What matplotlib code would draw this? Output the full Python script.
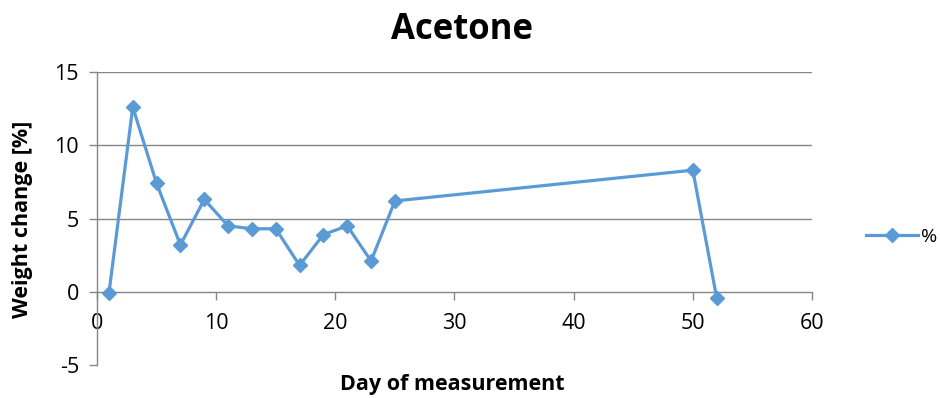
import matplotlib
matplotlib.use("Agg")
import matplotlib.pyplot as plt

plt.rcParams['font.family'] = ['Open Sans', 'DejaVu Sans']
plt.rcParams['axes.unicode_minus'] = False

# weight change of the sample in acetone
days = [1, 3, 5, 7, 9, 11, 13, 15, 17, 19, 21, 23, 25, 50, 52]
weight_change = [-0.1, 12.6, 7.4, 3.2, 6.3, 4.5, 4.3, 4.3, 1.8, 3.9, 4.5, 2.1, 6.2, 8.3, -0.4]
x_ticks = [0, 10, 20, 30, 40, 50, 60]
y_ticks = [-5, 0, 5, 10, 15]

blue = '#5b9bd5'
grid_grey = '#868686'

fig = plt.figure(figsize=(9.4, 3.98), dpi=100)
ax = fig.add_axes([0.1032, 0.0829, 0.7606, 0.7361])

ax.plot(days, weight_change, color=blue, lw=2.3, marker='D', markersize=7.5,
        label='%', zorder=3)

ax.set_xlim(0, 60)
ax.set_ylim(-5, 15)
ax.set_xticks(x_ticks)
ax.set_yticks(y_ticks)

for yv in [5, 10, 15]:
    ax.axhline(yv, color=grid_grey, lw=1.0, zorder=1)

ax.spines['top'].set_visible(False)
ax.spines['right'].set_visible(False)
ax.spines['bottom'].set_position(('data', 0))
for s in ['left', 'bottom']:
    ax.spines[s].set_color(grid_grey)
    ax.spines[s].set_linewidth(1.0)

ax.tick_params(axis='both', colors=grid_grey, length=6, width=1.0,
               labelcolor='black', labelsize=15.5)
ax.tick_params(axis='x', direction='out', pad=9)
ax.tick_params(axis='y', direction='out', pad=7)

fig.text(0.492, 0.925, 'Acetone', ha='center', va='center',
         fontsize=25, fontweight='bold')
fig.text(0.024, 0.45, 'Weight change [%]', ha='center', va='center',
         rotation=90, fontsize=15.5, fontweight='bold')
fig.text(0.481, 0.033, 'Day of measurement', ha='center', va='center',
         fontsize=15.5, fontweight='bold')

fig.legend(loc='center left', bbox_to_anchor=(0.921, 0.405), frameon=False,
           fontsize=14, handlelength=2.7, handletextpad=0.15,
           borderpad=0, borderaxespad=0)

fig.savefig('out.png', dpi=100)
